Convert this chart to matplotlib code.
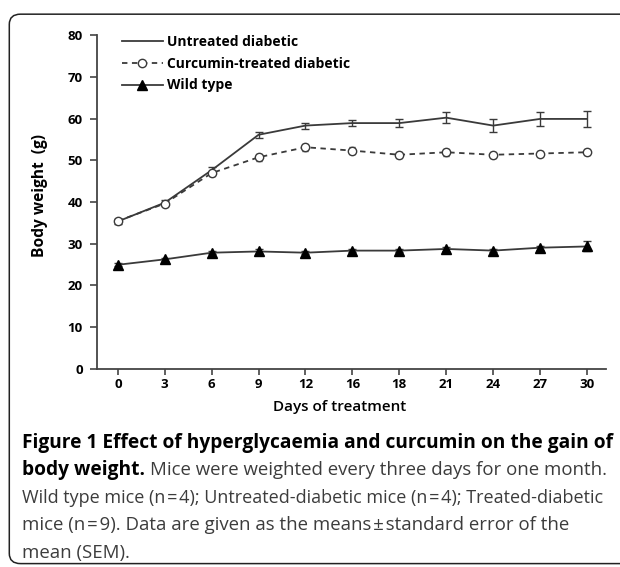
import numpy as np
import matplotlib
matplotlib.use('Agg')
import matplotlib.pyplot as plt
from matplotlib.patches import FancyBboxPatch
from matplotlib.lines import Line2D

plt.rcParams['font.family'] = ['Open Sans', 'DejaVu Sans']

# Data
days = ['0', '3', '6', '9', '12', '16', '18', '21', '24', '27', '30']
untreated = [35.3, 39.8, 47.6, 56.1, 58.3, 58.9, 58.9, 60.2, 58.3, 59.9, 59.9]
untreated_err = [0.6, 0.6, 0.7, 0.7, 0.7, 0.7, 1.0, 1.3, 1.6, 1.6, 1.9]
curcumin = [35.4, 39.6, 46.9, 50.7, 53.1, 52.3, 51.3, 51.9, 51.3, 51.6, 51.9]
curcumin_err = [0.6, 0.6, 0.6, 0.8, 0.8, 0.8, 0.7, 0.8, 0.7, 0.7, 0.7]
wild = [24.9, 26.2, 27.8, 28.1, 27.8, 28.3, 28.3, 28.7, 28.3, 29.0, 29.3]
wild_err = [0.4, 0.4, 0.4, 0.5, 0.4, 0.4, 0.4, 0.5, 0.4, 0.5, 1.2]
labels = ['Untreated diabetic', 'Curcumin-treated diabetic', 'Wild type']

x = np.arange(len(days))
line_col = '#3a3a3a'

fig = plt.figure(figsize=(6.2, 5.67), dpi=100)
ax = fig.add_axes([0.156, 0.35, 0.821, 0.588])

# figure frame (rounded, running off the right edge)
frame = FancyBboxPatch((0.015, 0.006), 1.2, 0.969,
                       boxstyle='round,pad=0,rounding_size=0.018',
                       transform=fig.transFigure, fill=False,
                       edgecolor='#222222', linewidth=1.1, zorder=0)
fig.patches.append(frame)

ax.errorbar(x, untreated, yerr=untreated_err, color=line_col, lw=1.3,
            capsize=3, elinewidth=1.0, capthick=1.0)
ax.errorbar(x, curcumin, yerr=curcumin_err, color=line_col, lw=1.3, ls=(0, (3, 2.5)),
            marker='o', ms=6, mfc='white', mec=line_col, mew=1.0,
            capsize=2, elinewidth=1.0, capthick=1.0)
ax.errorbar(x, wild, yerr=wild_err, color=line_col, lw=1.3,
            marker='^', ms=7, mfc='black', mec='black',
            capsize=3, elinewidth=1.0, capthick=1.0)

ax.set_xlim(-0.45, 10.4)
ax.set_ylim(0, 80)
ax.set_yticks(np.arange(0, 81, 10))
ax.set_xticks(x)
ax.set_xticklabels(days)
for s in ['top', 'right']:
    ax.spines[s].set_visible(False)
for s in ['left', 'bottom']:
    ax.spines[s].set_color('#444444')
    ax.spines[s].set_linewidth(1.3)
ax.tick_params(axis='both', colors='#444444', width=1.2,
               labelcolor='black', labelsize=9.5)
for lab in ax.get_xticklabels() + ax.get_yticklabels():
    lab.set_fontweight('bold')
ax.tick_params(axis='x', length=4, pad=3)
ax.tick_params(axis='y', length=5, pad=5)

ax.set_ylabel('Body weight  (g)', fontsize=11.2, fontweight='bold')
ax.yaxis.set_label_coords(-0.096, 0.52)
ax.set_xlabel('Days of treatment', fontsize=11, fontweight='semibold')
ax.xaxis.set_label_coords(0.477, -0.093)

handles = [
    Line2D([], [], color=line_col, lw=1.3),
    Line2D([], [], color=line_col, lw=1.3, ls=(0, (3, 2.5)), marker='o',
           ms=6, mfc='white', mec=line_col, mew=1.0),
    Line2D([], [], color=line_col, lw=1.3, marker='^', ms=7, mfc='black', mec='black'),
]
ax.legend(handles, labels, loc='upper left', bbox_to_anchor=(0.049, 1.0),
          frameon=False, borderaxespad=0, borderpad=0,
          handlelength=3.0, handletextpad=0.3, labelspacing=0.55,
          prop={'size': 10, 'weight': 'bold'})

# caption
cap_x = 0.035
fs_b = 13.8
fs_r = 13.4
txt_col = '#3c3c3c'
hs = '\u200a'
base = [0.2099, 0.1614, 0.1129, 0.0644, 0.0159]
fig.text(cap_x, base[0], 'Figure 1 Effect of hyperglycaemia and curcumin on the gain of',
         fontsize=fs_b, fontweight='bold', color='black', va='baseline')
t_bold = fig.text(cap_x, base[1], 'body weight.', fontsize=fs_b, fontweight='bold',
                  color='black', va='baseline')
fig.canvas.draw()
bb = t_bold.get_window_extent().transformed(fig.transFigure.inverted())
fig.text(bb.x1 + 0.008, base[1], 'Mice were weighted every three days for one month.',
         fontsize=fs_r, color=txt_col, va='baseline')
fig.text(cap_x, base[2], f'Wild type mice (n{hs}={hs}4); Untreated-diabetic mice (n{hs}={hs}4); Treated-diabetic',
         fontsize=13.0, color=txt_col, va='baseline')
fig.text(cap_x, base[3], f'mice (n{hs}={hs}9). Data are given as the means{hs}\u00b1{hs}standard error of the',
         fontsize=fs_r, color=txt_col, va='baseline')
fig.text(cap_x, base[4], 'mean (SEM).', fontsize=fs_r, color=txt_col, va='baseline')

fig.savefig('out.png', dpi=100)
